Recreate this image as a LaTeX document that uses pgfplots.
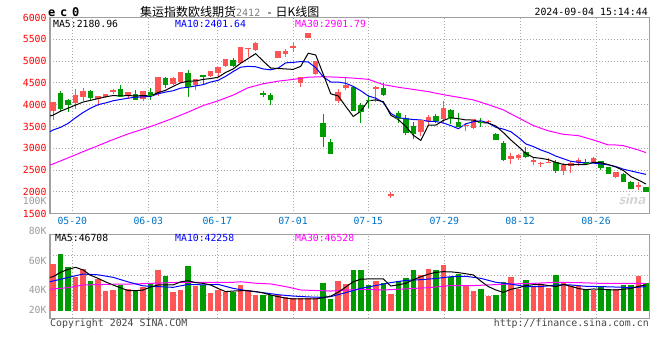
\documentclass[border=0pt]{standalone}
\usepackage{pgfplots}
\pgfplotsset{compat=1.18}
\usepackage{pgfplotstable}
\usepackage{fontspec}
\newfontfamily\mono{DejaVu Sans Mono}
\newfontfamily\cjk{Noto Sans CJK SC}
\definecolor{upred}{RGB}{255,85,85}
\definecolor{dngreen}{RGB}{0,155,0}
\definecolor{maten}{RGB}{0,0,255}
\definecolor{mathirty}{RGB}{255,0,255}
\definecolor{framegray}{RGB}{160,160,160}
\definecolor{gridgray}{RGB}{170,170,170}
\definecolor{xlab}{RGB}{0,115,200}
\definecolor{vlab}{RGB}{155,155,155}
\definecolor{foot}{RGB}{70,70,70}

% i open high low close volume(K)
\pgfplotstableread{
i o h l c v
0 3846 4060 3654 4050 57.9
3 4040 4350 3900 4200 49.0
4 4185 4385 4077 4308 54.2
6 4131 4190 3962 4177 47.5
7 4185 4254 4154 4239 39.5
8 4285 4360 4254 4331 40.0
10 4216 4285 4140 4270 40.7
12 4123 4310 4077 4300 42.3
14 4246 4640 4190 4623 53.6
16 4477 4640 4450 4600 38.9
17 4513 4760 4500 4735 40.0
19 4452 4570 4337 4567 43.0
21 4658 4760 4640 4750 37.7
22 4735 4855 4643 4850 40.0
23 4888 5030 4870 5026 38.9
25 4949 5305 4930 5301 43.4
26 5270 5305 5100 5300 40.0
27 5255 5430 5240 5393 36.6
30 5072 5240 5060 5209 36.6
31 5171 5270 5102 5209 35.0
32 5300 5410 5217 5335 34.4
33 4506 4625 4415 4620 34.4
34 5523 5645 5520 5640 34.4
35 4705 4990 4680 4980 34.8
38 4085 4353 4032 4270 46.1
39 4380 4605 4330 4430 44.1
43 4350 4437 4062 4395 46.1
45 1920 2005 1850 1940 37.3
49 3367 3630 3290 3627 50.2
50 3596 3760 3520 3710 54.2
52 3665 4085 3573 3917 56.9
55 3505 3590 3400 3530 43.4
56 3474 3665 3440 3649 39.3
58 3600 3650 3580 3620 35.9
61 2755 2900 2650 2808 48.6
62 2770 2860 2740 2846 40.7
64 2700 2770 2617 2720 43.0
65 2645 2693 2564 2660 43.8
66 2670 2785 2655 2685 41.6
68 2487 2655 2388 2594 45.2
69 2594 2693 2441 2655 43.0
70 2655 2785 2602 2716 43.0
72 2678 2808 2655 2770 40.0
75 2349 2464 2326 2441 40.5
78 2105 2235 2044 2158 49.7
}\up

\pgfplotstableread{
i o h l c v
1 4270 4323 3846 3908 64.6
2 4116 4120 3830 4000 55.6
5 4308 4330 4100 4154 46.1
9 4354 4446 4170 4185 43.4
11 4246 4330 4100 4123 39.3
13 4300 4385 4100 4200 44.5
15 4623 4630 4385 4470 49.7
18 4735 4796 4185 4414 56.5
20 4682 4690 4452 4643 43.4
24 5026 5072 4870 4888 38.4
28 4260 4322 4170 4240 36.6
29 4223 4261 3986 4108 36.6
36 3573 3787 3038 3267 45.0
37 3145 3206 2877 2885 33.9
40 4399 4430 3860 3871 53.6
41 3986 4032 3573 3848 53.6
42 4110 4223 3917 4090 43.4
44 4391 4490 4210 4223 44.5
46 3802 3848 3573 3672 46.1
47 3703 3760 3300 3359 48.1
48 3512 3600 3220 3330 53.6
51 3741 3790 3570 3634 53.6
53 3879 3900 3550 3672 48.6
54 3596 3800 3480 3497 50.8
57 3611 3688 3497 3596 40.7
59 3328 3340 3180 3191 36.6
60 3114 3170 2720 2747 45.2
63 2907 3040 2780 2808 46.8
67 2686 2730 2425 2502 50.2
71 2693 2747 2640 2655 40.7
73 2709 2716 2502 2564 43.0
74 2564 2570 2420 2426 40.5
76 2403 2441 2230 2235 43.4
77 2235 2240 2080 2082 43.4
79 2105 2110 2000 2005 45.0
}\down

\pgfplotsset{
  kbase/.style={
    scale only axis, width=599.3bp, xmin=-0.4, xmax=79.44,
    axis line style={draw=framegray, line width=1.3bp},
    major tick length=0pt, clip=false,
    grid style={draw=gridgray, line width=0.9bp, dash pattern=on 1bp off 2bp},
    xtick={2.571,12.697,21.889,31.974,42.006,52.131,62.217,72.342},
    xmajorgrids,
    tick label style={font=\mono\fontsize{9.8bp}{11bp}\selectfont},
  },
  wick/.style={draw=none, forget plot, error bars/.cd, y dir=minus, y explicit,
    error bar style={draw=#1, line width=1bp}, error mark=none},
  body/.style={draw=none, forget plot, error bars/.cd, y dir=minus, y explicit,
    error bar style={draw=#1, line width=5.5bp}, error mark=none},
}

\begin{document}
\begin{tikzpicture}
\useasboundingbox (0,0) rectangle (660bp,360bp);

% ---------------- price panel ----------------
\begin{axis}[kbase, name=price,
  at={(50bp,342.5bp)}, anchor=north west, height=196.2bp,
  ymin=1500, ymax=6000,
  ytick={1500,2000,2500,3000,3500,4000,4500,5000,5500,6000},
  yticklabels={1500,2000,2500,3000,3500,4000,4500,5000,5500,6000},
  yticklabel style={text=red},
  ymajorgrids,
  xticklabels={05-20,06-03,06-17,07-01,07-15,07-29,08-12,08-26},
  xticklabel style={text=xlab},
]
% wicks
\addplot[wick=upred] table[x=i, y=h, y error minus expr=\thisrow{h}-\thisrow{l}] {\up};
\addplot[wick=dngreen] table[x=i, y=h, y error minus expr=\thisrow{h}-\thisrow{l}] {\down};
% bodies
\addplot[body=upred] table[x=i, y=c, y error minus expr=\thisrow{c}-\thisrow{o}] {\up};
\addplot[body=dngreen] table[x=i, y=o, y error minus expr=\thisrow{o}-\thisrow{c}] {\down};
% thin caps so that doji candles show a line
\addplot[only marks, mark=-, mark size=2.75bp, mark options={draw=upred, line width=1bp}] table[x=i, y=c] {\up};
\addplot[only marks, mark=-, mark size=2.75bp, mark options={draw=dngreen, line width=1bp}] table[x=i, y=c] {\down};

% MA30
\addplot[mathirty, line width=1bp] coordinates {
(-0.4,2617) (0,2640) (2,2780) (4,2923) (6,3060) (8,3200) (10,3330) (12,3440) (14,3560)
(16,3690) (18,3830) (20,3980) (22,4090) (24,4220) (26,4390) (28,4480) (30,4540)
(32,4580) (34,4630) (36,4643) (38,4630) (40,4610) (42,4582) (44,4460) (46,4400)
(48,4350) (50,4300) (52,4230) (54,4170) (56,4110) (58,4000) (60,3880) (62,3700)
(64,3520) (66,3400) (68,3320) (70,3290) (72,3190) (74,3076) (75,3076) (76,3060)
(78,2960) (79,2902)};
% MA10
\addplot[maten, line width=1bp] coordinates {
(-0.4,3380) (0,3420) (1,3480) (2,3570) (3,3700) (4,3820) (5,3920) (6,4000) (7,4040)
(8,4090) (9,4120) (10,4150) (11,4170) (12,4180) (13,4190) (14,4250) (15,4290)
(16,4320) (17,4380) (18,4400) (19,4430) (20,4460) (21,4520) (22,4560) (23,4650)
(24,4760) (25,4860) (26,4880) (27,4870) (28,4820) (29,4800) (30,4840) (31,4960)
(32,4970) (33,4990) (34,4980) (35,4850) (36,4640) (37,4520) (38,4520) (39,4490)
(40,4420) (41,4320) (42,4200) (43,4150) (44,4050) (45,3800) (46,3700) (47,3680)
(48,3660) (49,3650) (50,3620) (51,3615) (52,3580) (53,3520) (54,3450) (55,3560)
(56,3610) (57,3630) (58,3580) (59,3480) (60,3440) (61,3380) (62,3250) (63,3100)
(64,3040) (65,2960) (66,2900) (67,2820) (68,2760) (69,2700) (70,2680) (71,2660)
(72,2660) (73,2640) (74,2620) (75,2580) (76,2520) (77,2480) (78,2440) (79,2402)};
% MA5
\addplot[black, line width=1bp] coordinates {
(-0.4,3741) (0,3760) (1,3850) (2,3920) (3,3990) (4,4060) (5,4100) (6,4140) (7,4180)
(8,4210) (9,4200) (10,4210) (11,4200) (12,4210) (13,4200) (14,4280) (15,4330)
(16,4420) (17,4500) (18,4540) (19,4545) (20,4580) (21,4600) (22,4630) (23,4740)
(24,4820) (25,4950) (26,5060) (27,5170) (28,5000) (29,4840) (30,4830) (31,4820)
(32,4810) (33,4880) (34,5180) (35,5140) (36,4700) (37,4250) (38,4200) (39,3960)
(40,3730) (41,3850) (42,4090) (43,4110) (44,4070) (45,3760) (46,3660) (47,3500)
(48,3300) (49,3180) (50,3530) (51,3530) (52,3640) (53,3700) (54,3680) (55,3650)
(56,3650) (57,3590) (58,3580) (59,3510) (60,3360) (61,3190) (62,3040) (63,2880)
(64,2790) (65,2770) (66,2740) (67,2675) (68,2630) (69,2620) (70,2630) (71,2625)
(72,2680) (73,2670) (74,2625) (75,2570) (76,2490) (77,2350) (78,2270) (79,2181)};
\end{axis}

% ---------------- volume panel ----------------
\begin{axis}[kbase, name=vol,
  at={(50bp,125.7bp)}, anchor=north west, height=84bp,
  ymin=20.81, ymax=77.76,
  ytick={26.4,40,60}, yticklabels={20K,40K,60K},
  yticklabel style={text=vlab},
  extra y ticks={36.61,50.17,63.73}, extra y tick labels={},
  extra y tick style={ymajorgrids},
  xticklabels={},
]
\addplot[body=upred] table[x=i, y=v, y error minus expr=\thisrow{v}-26] {\up};
\addplot[body=dngreen] table[x=i, y=v, y error minus expr=\thisrow{v}-26] {\down};
% MA30 volume
\addplot[mathirty, line width=1bp] coordinates {
(-0.4,40.5) (2,41.6) (4,43.4) (8,43.9) (11,44.1) (13,44.5) (17,45.2) (24,45.2) (25,45.6)
(27,44.6) (29,44.1) (31,42.3) (33,40.0) (37,39.3) (41,40.5) (44,40.0) (46,40.5)
(50,41.6) (53,43.0) (56,43.0) (61,44.1) (64,44.5) (67,45.2) (70,45.0) (73,44.5) (79,44.5)};
% MA10 volume
\addplot[maten, line width=1bp] coordinates {
(-0.4,45.6) (2,48.5) (4,50.8) (6,50.3) (8,48.6) (10,45.5) (12,42.8) (14,42.3) (16,41.8)
(18,43.8) (20,43.5) (22,43.8) (24,41.1) (26,39.4) (28,38.2) (30,36.8) (32,35.9)
(34,35.3) (36,35.0) (37,35.5) (39,38.2) (41,41.1) (43,43.0) (45,45.0) (47,46.5)
(49,47.0) (51,47.8) (53,49.0) (55,49.3) (57,47.9) (59,45.2) (61,44.0) (63,42.3)
(65,42.3) (67,43.4) (69,43.4) (71,42.5) (73,42.3) (75,42.0) (77,41.6) (79,42.3)};
% MA5 volume
\addplot[black, line width=1bp] coordinates {
(-0.4,48.6) (0,49) (1,52) (2,54) (3,55.4) (4,53.6) (5,50) (6,47.9) (7,45.5) (8,43.4)
(9,41.5) (10,39.6) (11,39.5) (12,40.0) (13,42) (14,43.4) (15,43.4) (16,43.4) (17,45.5)
(18,46.3) (19,45) (20,44.5) (21,43.4) (22,41) (23,38.9) (24,39.3) (25,39.5) (26,39.5)
(27,38.9) (28,38) (29,36.6) (30,35.5) (31,34.5) (32,33.9) (33,33.9) (34,33.9)
(35,33.9) (36,34.8) (37,35.8) (38,38.5) (39,42) (40,45.6) (41,47.3) (42,47.5)
(43,47.5) (44,47.5) (45,42.7) (46,43.5) (47,44.5) (48,47) (49,49) (50,50.7) (51,52)
(52,52.4) (53,52.3) (54,51.8) (55,51) (56,50.2) (57,46) (58,42.3) (59,40) (60,38.4)
(61,40.5) (62,41.5) (63,43) (64,43.6) (65,43.8) (66,43) (67,42.3) (68,43.8) (69,42.5)
(70,41) (71,40.2) (72,40.7) (73,40.5) (74,40.2) (75,40.0) (76,40.5) (77,41) (78,42.5)
(79,43.5)};
\node[anchor=east, text=vlab, font=\mono\fontsize{9.8bp}{11bp}\selectfont] at (axis cs:-0.4,80) {80K};
\node[anchor=east, text=vlab, font=\mono\fontsize{9.8bp}{11bp}\selectfont] at (axis cs:-0.4,100.3) {100K};
\end{axis}

% ---------------- texts ----------------
\begin{scope}[every node/.style={inner sep=0pt}]
\node[anchor=west, font=\mono\bfseries\fontsize{12bp}{13bp}\selectfont] at (48bp,348bp) {e\hspace{4.8bp}c\hspace{4.8bp}0};
\node[anchor=west, font=\cjk\fontsize{12bp}{14bp}\selectfont] at (140bp,348bp)
  {集运指数欧线期货{\mono\fontsize{10bp}{12bp}\selectfont\color{gray}2412 }{\mono\fontsize{11bp}{12bp}\selectfont -} 日K线图};
\node[anchor=east, font=\mono\fontsize{9.9bp}{11bp}\selectfont] at (648bp,348bp) {2024-09-04 15:14:44};
\node[anchor=west, font=\mono\fontsize{9.8bp}{11bp}\selectfont] at (53bp,336bp) {MA5:2180.96};
\node[anchor=west, font=\mono\fontsize{9.8bp}{11bp}\selectfont, text=maten] at (175bp,336bp) {MA10:2401.64};
\node[anchor=west, font=\mono\fontsize{9.8bp}{11bp}\selectfont, text=mathirty] at (295bp,336bp) {MA30:2901.79};
\node[anchor=west, font=\mono\fontsize{9.8bp}{11bp}\selectfont] at (55bp,121.7bp) {MA5:46708};
\node[anchor=west, font=\mono\fontsize{9.8bp}{11bp}\selectfont, text=maten] at (175bp,121.7bp) {MA10:42258};
\node[anchor=west, font=\mono\fontsize{9.8bp}{11bp}\selectfont, text=mathirty] at (295bp,121.7bp) {MA30:46528};
\node[anchor=west, font=\mono\fontsize{9.9bp}{11bp}\selectfont, text=foot] at (50bp,36bp) {Copyright 2024 SINA.COM};
\node[anchor=east, font=\mono\fontsize{9.9bp}{11bp}\selectfont, text=foot] at (649bp,36bp) {http://finance.sina.com.cn};
\node[font=\sffamily\bfseries\itshape\fontsize{15bp}{16bp}\selectfont, text=gray!35] at (632bp,160bp) {sina};
\end{scope}
\end{tikzpicture}
\end{document}
